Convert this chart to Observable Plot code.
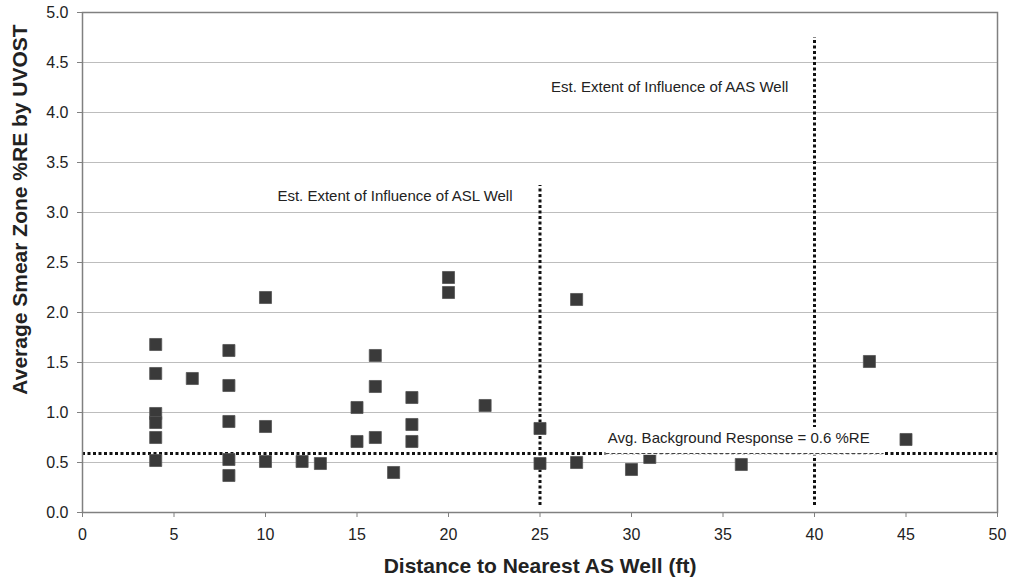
<!DOCTYPE html>
<html>
<head>
<meta charset="utf-8">
<script src="https://cdn.jsdelivr.net/npm/d3@7"></script>
<script src="https://cdn.jsdelivr.net/npm/@observablehq/plot@0.6"></script>
<style>
  html, body { margin: 0; padding: 0; background: #fff; }
  #chart { width: 1014px; height: 587px; }
  svg { font-family: "Liberation Sans", Arial, sans-serif; }
</style>
</head>
<body>
<div id="chart"></div>
<script>
// Data: distance to nearest AS well (ft) and average smear zone %RE
const distance = [4, 4, 4, 4, 4, 4, 6, 8, 8, 8, 8, 8, 10, 10, 10, 12, 13, 15, 15, 16, 16, 16, 17, 18, 18, 18, 20, 20, 22, 25, 25, 27, 27, 30, 31, 36, 43, 45];
const response = [1.68, 1.39, 0.99, 0.90, 0.75, 0.52, 1.34, 1.62, 1.27, 0.91, 0.53, 0.37, 2.15, 0.86, 0.51, 0.51, 0.49, 1.05, 0.71, 1.57, 1.26, 0.75, 0.40, 1.15, 0.88, 0.71, 2.35, 2.20, 1.07, 0.84, 0.49, 2.13, 0.50, 0.43, 0.55, 0.48, 1.51, 0.73];

// Reference lines
const backgroundLevel = 0.59;
const influenceX = [25, 40];
const influenceTop = [3.27, 4.75];
const influenceBottom = [0.07, 0.07];
const labelBoxX = [28.6, 43.8];
const labelBoxY = [0.572, 0.85];

// Annotations
const annotationText = ["Est. Extent of Influence of AAS Well", "Est. Extent of Influence of ASL Well", "Avg. Background Response = 0.6 %RE"];
const annotationX = [25.6, 10.65, 28.7];
const annotationY = [4.25, 3.16, 0.74];

// Ticks
const xTicks = [0, 5, 10, 15, 20, 25, 30, 35, 40, 45, 50];
const yTicks = [0, 0.5, 1, 1.5, 2, 2.5, 3, 3.5, 4, 4.5, 5];

const xTitle = "Distance to Nearest AS Well (ft)";
const yTitle = "Average Smear Zone %RE by UVOST";

const points = distance.map((d, i) => ({x: d, y: response[i]}));
const vlines = influenceX.map((x, i) => ({x, y1: influenceBottom[i], y2: influenceTop[i]}));
const notes = annotationText.map((t, i) => ({t, x: annotationX[i], y: annotationY[i]}));

const chart = Plot.plot({
  width: 1014,
  height: 587,
  marginLeft: 82,
  marginRight: 17,
  marginTop: 12,
  marginBottom: 75,
  style: {fontFamily: "'Liberation Sans', Arial, sans-serif", background: "#fff"},
  x: {domain: [0, 50]},
  y: {domain: [0, 5]},
  marks: [
    Plot.gridY(yTicks, {stroke: "#bdbdbd", strokeOpacity: 1, strokeWidth: 1.2}),
    Plot.axisX(xTicks, {tickSize: 5, tickPadding: 11, fontSize: 16, fill: "#222", stroke: "#808080", label: null}),
    Plot.axisY(yTicks, {tickSize: 5, tickPadding: 9, fontSize: 16, fill: "#222", stroke: "#808080", tickFormat: d3.format(".1f"), label: null}),
    Plot.ruleX(vlines, {x: "x", y1: "y1", y2: "y2", stroke: "#111", strokeWidth: 3, strokeDasharray: "3,2.5"}),
    Plot.ruleY([backgroundLevel], {x1: 0, x2: 50, stroke: "#111", strokeWidth: 3, strokeDasharray: "3,2.5"}),
    Plot.dot(points, {x: "x", y: "y", symbol: "square", r: 6.8, fill: "#3a3a3a", stroke: "#555", strokeWidth: 0.8}),
    Plot.rect([{}], {x1: labelBoxX[0], x2: labelBoxX[1], y1: labelBoxY[0], y2: labelBoxY[1], fill: "#fff"}),
    Plot.ruleY([backgroundLevel], {x1: labelBoxX[0], x2: labelBoxX[1], stroke: "#444", strokeWidth: 1, strokeDasharray: "4,2"}),
    Plot.text(notes, {x: "x", y: "y", text: "t", textAnchor: "start", fontSize: 15, fill: "#222"}),
    Plot.frame({stroke: "#808080", strokeWidth: 1.5}),
    Plot.text([xTitle], {frameAnchor: "bottom", dy: 60, fontSize: 21, fontWeight: "bold", fill: "#222"}),
    Plot.text([yTitle], {frameAnchor: "left", dx: -62, dy: -53, rotate: -90, textAnchor: "middle", fontSize: 21, fontWeight: "bold", fill: "#222"})
  ]
});
document.getElementById("chart").appendChild(chart);
</script>
</body>
</html>
